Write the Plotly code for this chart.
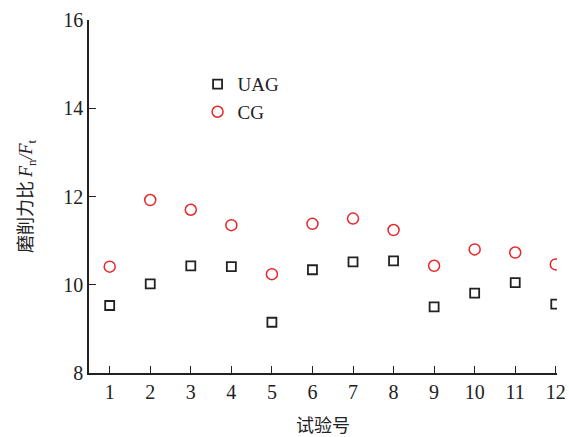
import plotly.graph_objects as go

trials = [1, 2, 3, 4, 5, 6, 7, 8, 9, 10, 11, 12]
uag = [9.53, 10.02, 10.43, 10.41, 9.15, 10.34, 10.52, 10.54, 9.50, 9.81, 10.05, 9.56]
cg = [10.41, 11.92, 11.70, 11.35, 10.24, 11.38, 11.50, 11.24, 10.43, 10.80, 10.73, 10.46]
y_ticks = [8, 10, 12, 14, 16]

serif = "Liberation Serif, Times New Roman, serif"
cjk = "Noto Sans CJK SC, Liberation Serif, serif"

fig = go.Figure()
fig.add_trace(go.Scatter(
    x=trials, y=uag, mode="markers", name="UAG",
    marker=dict(symbol="square-open", size=9, color="#222222", line=dict(width=1.8, color="#222222")),
))
fig.add_trace(go.Scatter(
    x=trials, y=cg, mode="markers", name="CG",
    marker=dict(symbol="circle-open", size=11, color="#e8262a", line=dict(width=1.5, color="#e8262a")),
))

ytitle = ('磨削力比 <span style="font-family:Liberation Serif"><i>F</i><sub>n</sub>'
          '<i>/F</i><sub>t</sub></span>')

fig.update_layout(
    width=569, height=437,
    margin=dict(l=89, r=12, t=20, b=64, autoexpand=False),
    plot_bgcolor="white", paper_bgcolor="white",
    font=dict(family=serif, size=20, color="#222222"),
    showlegend=True,
    legend=dict(x=0.232, y=0.872, xanchor="left", yanchor="top",
                bgcolor="rgba(0,0,0,0)", font=dict(family=serif, size=19, color="#222222"),
                itemwidth=30, tracegroupgap=0),
    xaxis=dict(
        range=[0.49, 12.03], tickmode="array", tickvals=trials, automargin=False,
        ticks="inside", ticklen=7, tickwidth=1.3, tickcolor="#222222",
        showline=True, linecolor="#222222", linewidth=1.5, showgrid=False, zeroline=False,
        title=dict(text="试验号", font=dict(family=cjk, size=18, color="#222222"), standoff=22),
    ),
    yaxis=dict(
        range=[8, 16], tickmode="array", tickvals=y_ticks, automargin=False,
        ticks="inside", ticklen=7, tickwidth=1.3, tickcolor="#222222",
        showline=True, linecolor="#222222", linewidth=1.5, showgrid=False, zeroline=False,
        title=dict(text=ytitle,
                   font=dict(family=cjk, size=18, color="#222222"), standoff=26),
    ),
)

fig.write_html("out.html")
